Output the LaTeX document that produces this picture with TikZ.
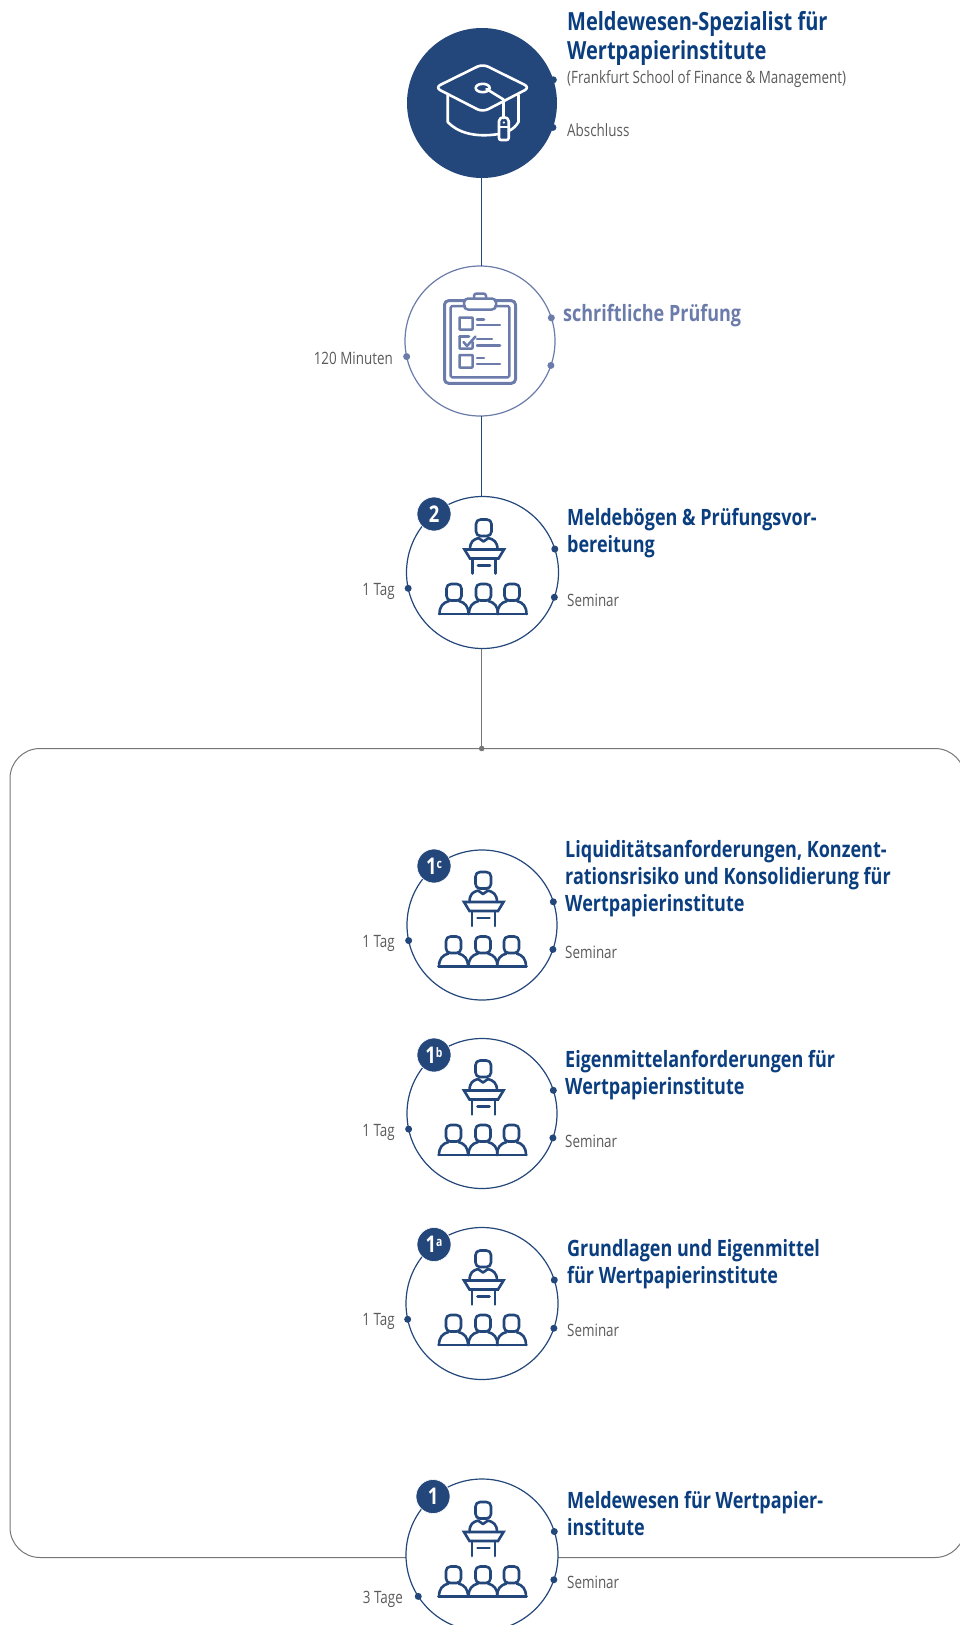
\documentclass[tikz,border=0pt]{standalone}
\usepackage{fontspec}
\setmainfont{Open Sans}[FakeStretch=0.79,BoldFeatures={FakeStretch=0.80}]
\definecolor{navy}{HTML}{23477A}
\definecolor{titleblue}{HTML}{0B3E7F}
\definecolor{lav}{HTML}{6B7CAB}
\definecolor{greytxt}{HTML}{5A5A5A}
\definecolor{frame}{HTML}{767676}
\tikzset{
 ring/.style={circle,draw=#1,fill=white,line width=1.2pt,minimum size=150pt,inner sep=0pt,outer sep=0pt},
 dotm/.style={circle,fill=#1,minimum size=7pt,inner sep=0pt,outer sep=0pt},
 badge/.style={circle,fill=navy,draw=white,line width=.6pt,minimum size=34pt,inner sep=0pt,text=white,font=\fontsize{23}{23}\selectfont\bfseries},
 ttl/.style={anchor=north west,align=left,inner sep=0pt,text=titleblue,font=\fontsize{22.5}{27}\selectfont\bfseries},
 small/.style={anchor=base west,inner sep=0pt,text=greytxt,font=\fontsize{17}{20}\selectfont},
 smallr/.style={anchor=base east,inner sep=0pt,text=greytxt,font=\fontsize{17}{20}\selectfont},
 pics/seminar/.style={code={
  \begin{scope}[draw=navy,line width=2.6pt,line join=round,line cap=round]
   \draw[rounded corners=4.5pt] (-6.5,-36.5) -- (-6.5,-53) -- (9,-53) -- (9,-36.5) -- cycle;
   \draw (-12.5,-23) .. controls (-12.5,-31) and (-9,-33) .. (-4,-34.5) -- (1,-31) -- (6,-34.5) .. controls (11,-33) and (15,-31) .. (15,-23);
   \draw[line join=miter] (-18,-23) -- (21.5,-23) -- (16,-14) -- (-12.5,-14) -- cycle;
   \draw (-10,-14) -- (-10,1) (13,-14) -- (13,1) (-4.5,-7) -- (7.5,-7);
   \foreach \cx in {-28.5,1,29.5}{
    \draw[rounded corners=4.5pt] (\cx-7.5,28) -- (\cx-7.5,11.5) -- (\cx+7.5,11.5) -- (\cx+7.5,28) -- cycle;
    \draw (\cx-14.5,41.5) .. controls (\cx-14.5,34) and (\cx-11,30) .. (\cx-5,28.5) (\cx+5,28.5) .. controls (\cx+11,30) and (\cx+14.5,34) .. (\cx+14.5,41.5);
   }
   \draw (-43.5,41.5) -- (44.5,41.5);
  \end{scope}}},
 pics/gradcap/.style={code={
  \begin{scope}[draw=white,line width=2.6pt,line join=round,line cap=round]
   \draw[rounded corners=6pt] (0.7,-39) -- (48,-15.5) -- (0.7,9) -- (-47,-15.5) -- cycle;
   \draw (0.7,-15) ellipse (7 and 4.2);
   \draw (4.5,-14) -- (21.5,-3.5) -- (21.5,15);
   \draw (-34.3,-8) -- (-34.3,19) .. controls (-25,29) and (-8,35) .. (17,31);
   \draw (36.5,-8) -- (36.5,19) .. controls (34,23) and (31,26) .. (26.7,28);
   \draw[rounded corners=2pt] (17,37) -- (17,20) .. controls (17,13) and (26.7,13) .. (26.7,20) -- (26.7,37) -- cycle;
   \draw (17,24) -- (26.7,24);
  \end{scope}
  \fill[white] (21.8,19.5) circle (1.2);}},
 pics/clipboard/.style={code={
  \begin{scope}[draw=lav,line width=2.5pt,line join=round,line cap=round]
   \draw[rounded corners=4pt,line width=3pt] (-15,-40.3) -- (-35.5,-40.3) -- (-35.5,42.3) -- (35.5,42.3) -- (35.5,-40.3) -- (15,-40.3);
   \draw[rounded corners=1.5pt] (-15,-35) -- (-29.3,-35) -- (-29.3,36.3) -- (29.3,36.3) -- (29.3,-35) -- (15,-35);
   \draw[rounded corners=4pt] (-16,-42.5) -- (16,-42.5) -- (16,-31.5) -- (-16,-31.5) -- cycle;
   \draw[rounded corners=2.5pt] (-6,-42.5) -- (-6,-47.5) -- (6,-47.5) -- (6,-42.5);
   \draw[rounded corners=.5pt] (-20.5,-23.5) rectangle (-7.5,-11.5);
   \draw[rounded corners=.5pt] (-20.5,-4.5) -- (-20.5,7.5) -- (-7.5,7.5) -- (-7.5,1);
   \draw (-20.5,-4.5) -- (-11,-4.5);
   \draw (-16.5,1) -- (-13,5) -- (-4.5,-4.5);
   \draw[rounded corners=.5pt] (-20.5,14) rectangle (-7.5,26.5);
   \draw (-3,-21.5) -- (4,-21.5) (-3,-16) -- (20,-16)
         (-3,-2) -- (12,-2) (-3,4.5) -- (20,4.5)
         (-3,17) -- (4,17) (-3,23) -- (20,23);
  \end{scope}}}
}
\begin{document}
\begin{tikzpicture}[x=1pt,y=-1pt]
\useasboundingbox (0,0) rectangle (960,1625);
\clip (0,0) rectangle (960,1625);
\coordinate (groupdot) at (481.7,748.5);
\node[draw=frame,line width=1pt,rounded corners=30pt,minimum width=955pt,minimum height=809pt,inner sep=0pt,outer sep=0pt] (group) at (487.5,1153) {};
% circles
\node[circle,fill=navy,minimum size=150pt,inner sep=0pt,outer sep=0pt] (abs) at (482,103) {};
\node[ring=lav] (exam) at (480,341) {};
\node[ring=navy,minimum size=152pt] (two) at (482.5,572.5) {};
\node[ring=navy] (oc) at (482,925) {};
\node[ring=navy] (ob) at (482,1113.5) {};
\node[ring=navy,minimum size=152pt] (oa) at (482,1303.5) {};
\node[ring=navy,minimum size=152pt] (one) at (482,1555) {};
% connectors
\draw[draw=navy,line width=1pt] (abs.south -| groupdot) -- (exam.north -| groupdot);
\draw[draw=navy,line width=1pt] (exam.south -| groupdot) -- (two.north -| groupdot);
\draw[draw=frame,line width=1.2pt] (two.south -| groupdot) -- (groupdot);
\fill[frame] (groupdot) circle (2.8pt);
% dots
\node[dotm=navy] (absd1) at (abs.18) {};
\node[dotm=navy] (absd2) at (abs.-19) {};
\node[dotm=lav] (examd1) at (exam.18) {};
\node[dotm=lav] (examd2) at (exam.-19) {};
\node[dotm=lav] (examd3) at (exam.192.5) {};
\node[dotm=navy] (twod1) at (two.18) {};
\node[dotm=navy] (twod2) at (two.-19) {};
\node[dotm=navy] (twod3) at (two.192.5) {};
\foreach \n in {oc,ob,oa}{
 \node[dotm=navy] (\n d1) at (\n.18) {};
 \node[dotm=navy] (\n d2) at (\n.-19) {};
 \node[dotm=navy] (\n d3) at (\n.192.5) {};
}
\node[dotm=navy] (oned1) at (one.18) {};
\node[dotm=navy] (oned2) at (one.-19) {};
\node[dotm=navy] (oned3) at (one.213) {};
% icons
\pic at (abs) {gradcap};
\pic at (exam) {clipboard};
\pic at (two) {seminar};
\pic at (oc) {seminar};
\pic at (ob) {seminar};
\pic at (oa) {seminar};
\pic at (one) {seminar};
% badges
\node[badge] (b2) at (434,514) {2};
\node[badge] (bc) at (434,866) {1\raisebox{6pt}{\fontsize{13}{13}\selectfont c}};
\node[badge] (bb) at (434,1055) {1\raisebox{6pt}{\fontsize{13}{13}\selectfont b}};
\node[badge] (ba) at (434,1244.5) {1\raisebox{6pt}{\fontsize{13}{13}\selectfont a}};
\node[badge] (b1) at (433,1496.5) {1};
% texts
\node[ttl,font=\fontsize{25}{29.5}\selectfont\bfseries] (t1) at (567,11) {Meldewesen-Spezialist für\\Wertpapierinstitute};
\node[small] (s1a) at (567,83) {(Frankfurt School of Finance \& Management)};
\node[small] (s1b) at (567,136) {Abschluss};
\node[ttl,text=lav] (t2) at (563,304) {schriftliche Prüfung};
\node[smallr] (l2) at (393,364) {120 Minuten};
\node[ttl] (t3) at (567,508) {Meldebögen \& Prüfungsvor-\\bereitung};
\node[small] (s3) at (567,606) {Seminar};
\node[smallr] (l3) at (395,595) {1 Tag};
\node[ttl] (t4) at (565,840) {Liquiditätsanforderungen, Konzent-\\rationsrisiko und Konsolidierung für\\Wertpapierinstitute};
\node[small] (s4) at (565,958) {Seminar};
\node[smallr] (l4) at (395,947) {1 Tag};
\node[ttl] (t5) at (565,1050) {Eigenmittelanforderungen für\\Wertpapierinstitute};
\node[small] (s5) at (565,1147) {Seminar};
\node[smallr] (l5) at (395,1136) {1 Tag};
\node[ttl] (t6) at (567,1239) {Grundlagen und Eigenmittel\\für Wertpapierinstitute};
\node[small] (s6) at (567,1336) {Seminar};
\node[smallr] (l6) at (395,1325) {1 Tag};
\node[ttl] (t7) at (567,1491) {Meldewesen für Wertpapier-\\institute};
\node[small] (s7) at (567,1588) {Seminar};
\node[smallr] (l7) at (403,1603) {3 Tage};
\end{tikzpicture}
\end{document}
